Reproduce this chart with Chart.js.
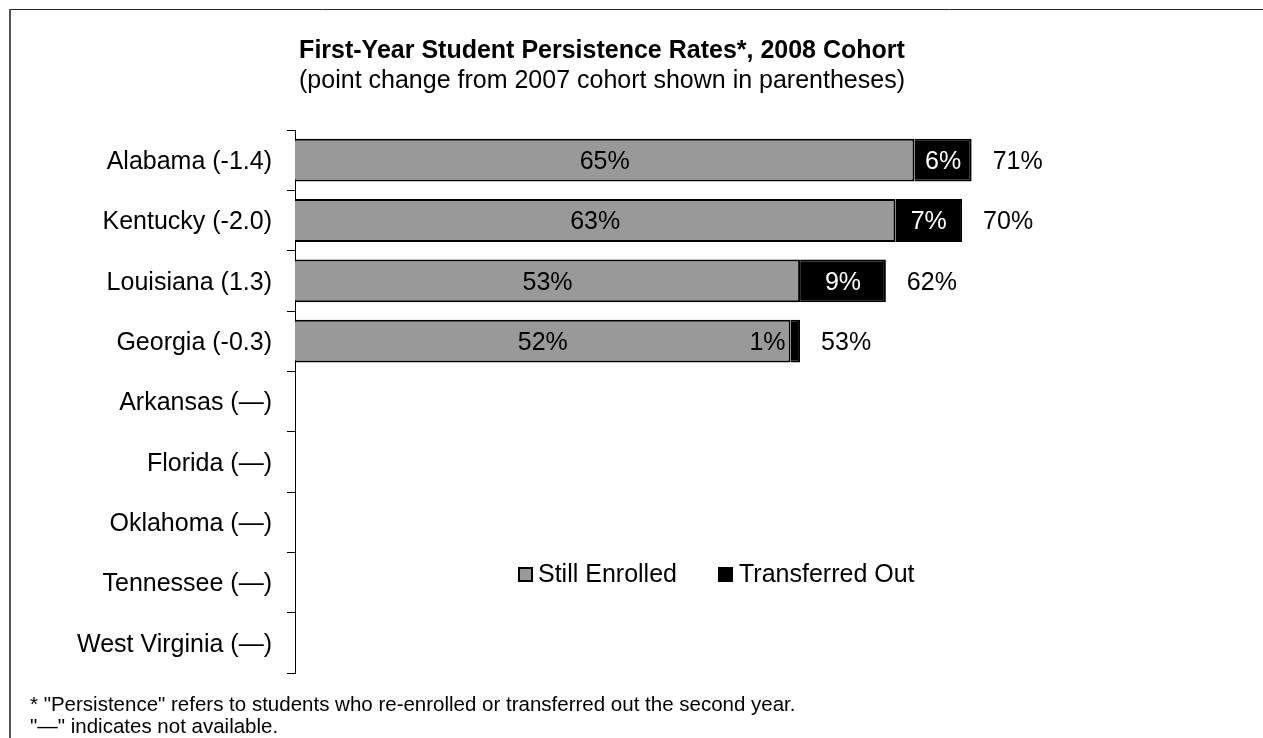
<!DOCTYPE html>
<html>
<head>
<meta charset="utf-8">
<title>First-Year Student Persistence Rates</title>
<script src="https://cdn.jsdelivr.net/npm/chart.js@4.4.1/dist/chart.umd.min.js"></script>
<style>
  html, body { margin: 0; padding: 0; background: #fff; }
  canvas { display: block; }
</style>
</head>
<body>
<canvas id="persistChart" width="1263" height="738"></canvas>
<script>
const states = [
    'Alabama (-1.4)', 'Kentucky (-2.0)', 'Louisiana (1.3)', 'Georgia (-0.3)',
    'Arkansas (\u2014)', 'Florida (\u2014)', 'Oklahoma (\u2014)', 'Tennessee (\u2014)',
    'West Virginia (\u2014)'
];
const stillEnrolled = [65, 63, 53, 52, null, null, null, null, null];
const transferredOut = [6, 7, 9, 1, null, null, null, null, null];
const seriesNames = ['Still Enrolled', 'Transferred Out'];

const titleText = 'First-Year Student Persistence Rates*, 2008 Cohort';
const subtitleText = '(point change from 2007 cohort shown in parentheses)';
const notes = [
    '* "Persistence" refers to students who re-enrolled or transferred out the second year.',
    '"\u2014" indicates not available.'
];

const FONT = '"Liberation Sans", Arial, Helvetica, sans-serif';
const DY = 2; // nudge for middle-baseline text

// frame, title, footnotes, value labels and the legend inside the plot
const extras = {
    id: 'extras',
    afterDraw(chart) {
        const ctx = chart.ctx;
        ctx.save();

        // frame (top and left edges only)
        ctx.strokeStyle = '#222';
        ctx.lineWidth = 1;
        ctx.beginPath();
        ctx.moveTo(9, 9.5);
        ctx.lineTo(1263, 9.5);
        ctx.stroke();
        ctx.strokeStyle = '#555';
        ctx.lineWidth = 2;
        ctx.beginPath();
        ctx.moveTo(10, 9);
        ctx.lineTo(10, 738);
        ctx.stroke();

        ctx.fillStyle = '#000';
        ctx.textAlign = 'center';
        ctx.textBaseline = 'middle';
        ctx.font = 'bold 25px ' + FONT;
        ctx.fillText(titleText, 602, 49 + DY);
        ctx.font = '25px ' + FONT;
        ctx.fillText(subtitleText, 602, 79 + DY);

        ctx.textAlign = 'left';
        ctx.font = '20.5px ' + FONT;
        ctx.fillText(notes[0], 30, 703 + DY);
        ctx.fillText(notes[1], 30, 725 + DY);

        // segment labels and totals
        ctx.font = '25px ' + FONT;
        const still = chart.getDatasetMeta(0).data;
        const moved = chart.getDatasetMeta(1).data;
        still.forEach((bar, i) => {
            if (stillEnrolled[i] == null) return;
            ctx.textAlign = 'center';
            ctx.fillStyle = '#000';
            ctx.fillText(stillEnrolled[i] + '%', (bar.x + bar.base) / 2, bar.y + DY);

            const seg = moved[i];
            const txt = transferredOut[i] + '%';
            if (seg.x - seg.base > ctx.measureText(txt).width + 6) {
                ctx.fillStyle = '#fff';
                ctx.fillText(txt, (seg.x + seg.base) / 2, seg.y + DY);
            } else {
                ctx.textAlign = 'right';
                ctx.fillStyle = '#000';
                ctx.fillText(txt, seg.base - 5, seg.y + DY);
            }

            const total = stillEnrolled[i] + transferredOut[i];
            ctx.textAlign = 'left';
            ctx.fillStyle = '#000';
            ctx.fillText(total + '%', chart.scales.x.getPixelForValue(total) + 21, bar.y + DY);
        });

        // legend
        const keys = [[518, 538], [718, 739]];
        chart.data.datasets.forEach((ds, k) => {
            const [bx, tx] = keys[k];
            ctx.fillStyle = ds.backgroundColor;
            ctx.fillRect(bx, 567, 15, 15);
            ctx.strokeStyle = '#000';
            ctx.lineWidth = 2;
            ctx.strokeRect(bx + 1, 568, 13, 13);
            ctx.fillStyle = '#000';
            ctx.textAlign = 'left';
            ctx.fillText(ds.label, tx, 573 + DY);
        });

        ctx.restore();
    }
};

function drawChart() {
    const ctx = document.getElementById('persistChart').getContext('2d');

    new Chart(ctx, {
        type: 'bar',
        data: {
            labels: states,
            datasets: [
                {
                    label: seriesNames[0],
                    data: stillEnrolled,
                    backgroundColor: '#999999',
                    borderColor: '#000',
                    borderWidth: 2
                },
                {
                    label: seriesNames[1],
                    data: transferredOut,
                    backgroundColor: '#000',
                    borderColor: '#000',
                    borderWidth: 2
                }
            ]
        },
        options: {
            indexAxis: 'y',
            responsive: false,
            animation: false,
            devicePixelRatio: 1,
            layout: { padding: { left: 0, right: 15, top: 130, bottom: 65 } },
            datasets: {
                bar: { categoryPercentage: 1, barPercentage: 0.71 }
            },
            plugins: {
                legend: { display: false },
                title: { display: false },
                tooltip: { enabled: false }
            },
            scales: {
                x: {
                    stacked: true,
                    min: 0,
                    max: 100,
                    display: false
                },
                y: {
                    stacked: true,
                    afterFit: (scale) => { scale.width = 295; },
                    border: { display: true, color: '#000', width: 1 },
                    grid: {
                        display: true,
                        drawOnChartArea: false,
                        drawTicks: true,
                        tickLength: 8,
                        color: '#000'
                    },
                    ticks: {
                        color: '#000',
                        padding: 15,
                        labelOffset: DY,
                        font: { family: FONT, size: 25 }
                    }
                }
            }
        },
        plugins: [extras]
    });
}

drawChart();
</script>
</body>
</html>
